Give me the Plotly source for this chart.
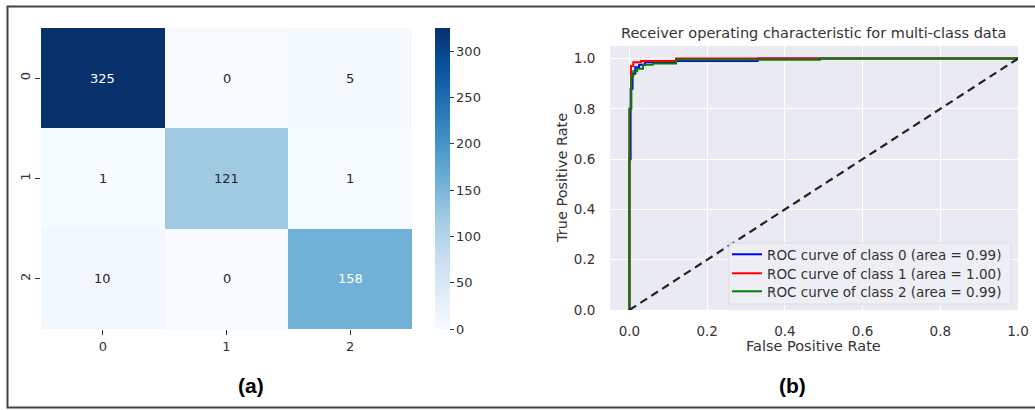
import plotly.graph_objects as go

# ---------------- data ----------------
cm_labels = ["0", "1", "2"]
cm_values = [
    [325, 0, 5],
    [1, 121, 1],
    [10, 0, 158],
]
cbar_ticks = [0, 50, 100, 150, 200, 250, 300]

fpr_class0 = [0.0, 0.0, 0.003, 0.003, 0.008, 0.008, 0.015, 0.015, 0.025, 0.025, 0.04, 0.04, 0.12, 0.12, 0.33, 0.33, 1.0]
tpr_class0 = [0.0, 0.60, 0.60, 0.88, 0.88, 0.94, 0.94, 0.965, 0.965, 0.975, 0.975, 0.985, 0.985, 0.99, 0.99, 1.0, 1.0]
fpr_class1 = [0.0, 0.0, 0.004, 0.004, 0.01, 0.01, 0.03, 0.03, 0.12, 0.12, 1.0]
tpr_class1 = [0.0, 0.80, 0.80, 0.97, 0.97, 0.985, 0.985, 0.99, 0.99, 1.0, 1.0]
fpr_class2 = [0.0, 0.0, 0.005, 0.005, 0.01, 0.01, 0.02, 0.02, 0.035, 0.035, 0.06, 0.06, 0.12, 0.12, 0.49, 0.49, 1.0]
tpr_class2 = [0.0, 0.80, 0.80, 0.93, 0.93, 0.95, 0.95, 0.96, 0.96, 0.975, 0.975, 0.98, 0.98, 0.995, 0.995, 1.0, 1.0]
roc_names = [
    "ROC curve of class 0 (area = 0.99)",
    "ROC curve of class 1 (area = 1.00)",
    "ROC curve of class 2 (area = 0.99)",
]
roc_colors = ["blue", "red", "green"]
chance_x = [0.0, 1.0]
chance_y = [0.0, 1.0]
roc_ticks = [0, 0.2, 0.4, 0.6, 0.8, 1.0]
roc_ticktext = ["0.0", "0.2", "0.4", "0.6", "0.8", "1.0"]

# ---------------- figure ----------------
W, H = 1035, 410
def px_x(p):
    return p / W
def px_y(p):
    return 1 - p / H

blues = [
    [0.0, "rgb(247,251,255)"], [0.125, "rgb(222,235,247)"], [0.25, "rgb(198,219,239)"],
    [0.375, "rgb(158,202,225)"], [0.5, "rgb(107,174,214)"], [0.625, "rgb(66,146,198)"],
    [0.75, "rgb(33,113,181)"], [0.875, "rgb(8,81,156)"], [1.0, "rgb(8,48,107)"],
]
zmax = max(max(r) for r in cm_values)

FONT = "DejaVu Sans"
TXT = "#333"
fig = go.Figure()

fig.add_trace(go.Heatmap(
    z=cm_values, x=cm_labels, y=cm_labels,
    colorscale=blues, zmin=0, zmax=zmax,
    xaxis="x", yaxis="y", hoverinfo="skip",
    colorbar=dict(
        x=px_x(435), xanchor="left", y=px_y(329), yanchor="bottom",
        len=(329 - 28) / H, lenmode="fraction", thickness=15, xpad=0, ypad=0,
        outlinewidth=0, tickvals=cbar_ticks, ticks="outside", ticklen=4,
        tickcolor=TXT, tickfont=dict(family=FONT, size=13, color=TXT),
    ),
))

annotations = []
for i, row in enumerate(cm_values):
    for j, v in enumerate(row):
        annotations.append(dict(
            x=cm_labels[j], y=cm_labels[i], xref="x", yref="y", text=str(v),
            showarrow=False,
            font=dict(family=FONT, size=13, color="white" if v > zmax * 0.45 else "#262626"),
        ))

legend_ids = ["legend", "legend2", "legend3"]
for fx, ty, name, col, lg in zip(
    [fpr_class0, fpr_class1, fpr_class2],
    [tpr_class0, tpr_class1, tpr_class2],
    roc_names, roc_colors, legend_ids,
):
    fig.add_trace(go.Scatter(x=fx, y=ty, mode="lines", name=name,
                             line=dict(color=col, width=2), legend=lg,
                             xaxis="x2", yaxis="y2"))

fig.add_trace(go.Scatter(x=chance_x, y=chance_y, mode="lines", showlegend=False,
                         line=dict(color="#222", width=2.2, dash="8px,5px"),
                         xaxis="x2", yaxis="y2"))

annotations += [
    dict(text="Receiver operating characteristic for multi-class data", x=px_x(813), y=px_y(33),
         xanchor="center", yanchor="middle",
         xref="paper", yref="paper", showarrow=False, font=dict(family=FONT, size=14.5, color=TXT)),
    dict(text="False Positive Rate", x=px_x(813), y=px_y(346), xanchor="center", yanchor="middle",
         xref="paper", yref="paper", showarrow=False, font=dict(family=FONT, size=14.5, color=TXT)),
    dict(text="True Positive Rate", x=px_x(562), y=px_y(178), textangle=-90,
         xanchor="center", yanchor="middle",
         xref="paper", yref="paper", showarrow=False, font=dict(family=FONT, size=14.5, color=TXT)),
    dict(text="<b>(a)</b>", x=px_x(251), y=px_y(385), xanchor="center", yanchor="middle",
         xref="paper", yref="paper",
         showarrow=False, font=dict(family="Liberation Sans", size=21, color="black")),
    dict(text="<b>(b)</b>", x=px_x(792), y=px_y(385), xanchor="center", yanchor="middle",
         xref="paper", yref="paper",
         showarrow=False, font=dict(family="Liberation Sans", size=21, color="black")),
]

def legend_at(top_px):
    return dict(x=px_x(727), y=px_y(top_px), xanchor="left", yanchor="top",
                bgcolor="rgba(0,0,0,0)", borderwidth=0,
                font=dict(family=FONT, size=13.5, color=TXT), itemwidth=30)

fig.update_layout(
    width=W, height=H, margin=dict(l=0, r=0, t=0, b=0, autoexpand=False),
    paper_bgcolor="white", plot_bgcolor="white",
    font=dict(family=FONT, size=13, color=TXT),
    xaxis=dict(domain=[px_x(41), px_x(412)], anchor="y", showgrid=False, zeroline=False,
               ticks="outside", ticklen=5, tickcolor=TXT, showline=False, automargin=False,
               tickfont=dict(family=FONT, size=13, color=TXT)),
    yaxis=dict(domain=[px_y(329), px_y(28)], anchor="x", autorange="reversed", automargin=False,
               showgrid=False, zeroline=False, ticks="outside", ticklen=5, tickcolor=TXT,
               tickangle=-90, tickfont=dict(family=FONT, size=13, color=TXT)),
    xaxis2=dict(domain=[px_x(610), px_x(1018)], anchor="y2", range=[-0.05, 1.0],
                tickvals=roc_ticks, ticktext=roc_ticktext, automargin=False,
                ticks="outside", ticklen=9, tickcolor="rgba(0,0,0,0)",
                showgrid=True, gridcolor="white", gridwidth=1.3, zeroline=False, showline=False,
                tickfont=dict(family=FONT, size=13.5, color=TXT)),
    yaxis2=dict(domain=[px_y(310), px_y(46)], anchor="x2", range=[0.0, 1.05],
                tickvals=roc_ticks, ticktext=roc_ticktext, automargin=False,
                ticks="outside", ticklen=11, tickcolor="rgba(0,0,0,0)",
                showgrid=True, gridcolor="white", gridwidth=1.3, zeroline=False, showline=False,
                tickfont=dict(family=FONT, size=13.5, color=TXT)),
    legend=legend_at(239),
    legend2=legend_at(258),
    legend3=legend_at(276),
    annotations=annotations,
    shapes=[
        dict(type="rect", xref="paper", yref="paper", x0=px_x(610), x1=px_x(1018),
             y0=px_y(310), y1=px_y(46), fillcolor="#EAEAF2", line=dict(width=0), layer="below"),
        dict(type="rect", xref="paper", yref="paper", x0=px_x(729), x1=px_x(1011),
             y0=px_y(304), y1=px_y(243), fillcolor="rgba(238,238,245,0.9)",
             line=dict(color="#dcdce4", width=1), layer="above"),
        dict(type="rect", xref="paper", yref="paper", x0=px_x(7.5), x1=px_x(1040),
             y0=px_y(407.5), y1=px_y(6.5), line=dict(color="#444", width=2)),
    ],
)

fig.write_html("out.html")
